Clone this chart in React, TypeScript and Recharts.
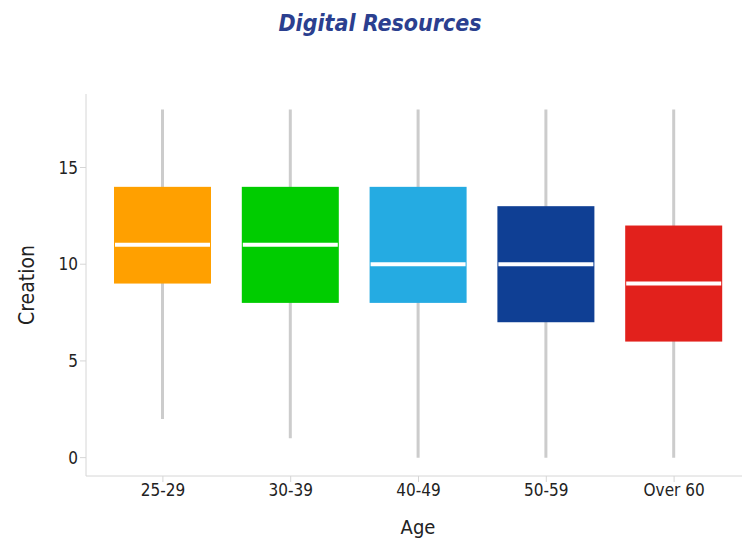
import { ComposedChart, Bar, Cell, XAxis, YAxis, Label } from 'recharts';

const ages = ['25-29', '30-39', '40-49', '50-59', 'Over 60'];
const mins = [2, 1, 0, 0, 0];
const q1s = [9, 8, 8, 7, 6];
const medians = [11, 11, 10, 10, 9];
const q3s = [14, 14, 14, 13, 12];
const maxs = [18, 18, 18, 18, 18];
const colors = ['#FFA000', '#00CC00', '#25ABE2', '#0F3F94', '#E2211C'];
const yTicks = [0, 5, 10, 15];

const data = ages.map((age, i) => ({
  age,
  range: [mins[i], maxs[i]],
  min: mins[i],
  q1: q1s[i],
  median: medians[i],
  q3: q3s[i],
  max: maxs[i],
}));

// draws whisker + box + median from the bar's [min, max] extent
const BoxShape = (props: any) => {
  const { x, y, width, height, payload, fill } = props;
  const { min, q1, median, q3, max } = payload;
  const span = max - min;
  const toY = (v: number) => y + (height * (max - v)) / span;
  const cx = x + width / 2;
  return (
    <g>
      <line x1={cx} x2={cx} y1={y} y2={y + height} stroke="#cccccc" strokeWidth={3} />
      <rect x={x} y={toY(q3)} width={width} height={toY(q1) - toY(q3)} fill={fill} />
      <line x1={x + 1} x2={x + width - 1} y1={toY(median)} y2={toY(median)} stroke="#ffffff" strokeWidth={4} />
    </g>
  );
};

const font = '"DejaVu Sans Condensed", "DejaVu Sans", sans-serif';

const App = () => {
  return (
    <div style={{ position: 'absolute', left: 0, top: 0, width: 742, height: 543, background: '#fff', fontFamily: font }}>
      <div style={{ position: 'absolute', top: 10, left: 0, width: 760, textAlign: 'center', color: '#2B3F8F', fontSize: 23, fontWeight: 'bold', fontStyle: 'italic' }}>
        Digital Resources
      </div>
      <ComposedChart width={742} height={543} data={data} margin={{ top: 94, right: 0, bottom: 0, left: 0 }}>
        <XAxis
          dataKey="age"
          height={67}
          padding={{ left: 13, right: 4 }}
          stroke="#d6d6d6"
          tickLine={{ stroke: '#d6d6d6' }}
          tickSize={6}
          tick={{ fill: '#222', fontSize: 17, fontFamily: font }}
        >
          <Label value="Age" position="insideBottom" offset={9} dx={4} style={{ fill: '#222', fontSize: 20, fontFamily: font }} />
        </XAxis>
        <YAxis
          type="number"
          domain={[-0.95, 18.8]}
          ticks={yTicks}
          width={86}
          stroke="#d6d6d6"
          tickLine={{ stroke: '#d6d6d6' }}
          tickSize={6}
          tick={{ fill: '#222', fontSize: 17, fontFamily: font }}
        >
          <Label value="Creation" angle={-90} position="insideLeft" offset={27} style={{ fill: '#222', fontSize: 21, fontFamily: font, textAnchor: 'middle' }} />
        </YAxis>
        <Bar dataKey="range" barSize={97} shape={BoxShape} isAnimationActive={false}>
          {data.map((d, i) => (
            <Cell key={d.age} fill={colors[i]} />
          ))}
        </Bar>
      </ComposedChart>
    </div>
  );
};

export default App;
